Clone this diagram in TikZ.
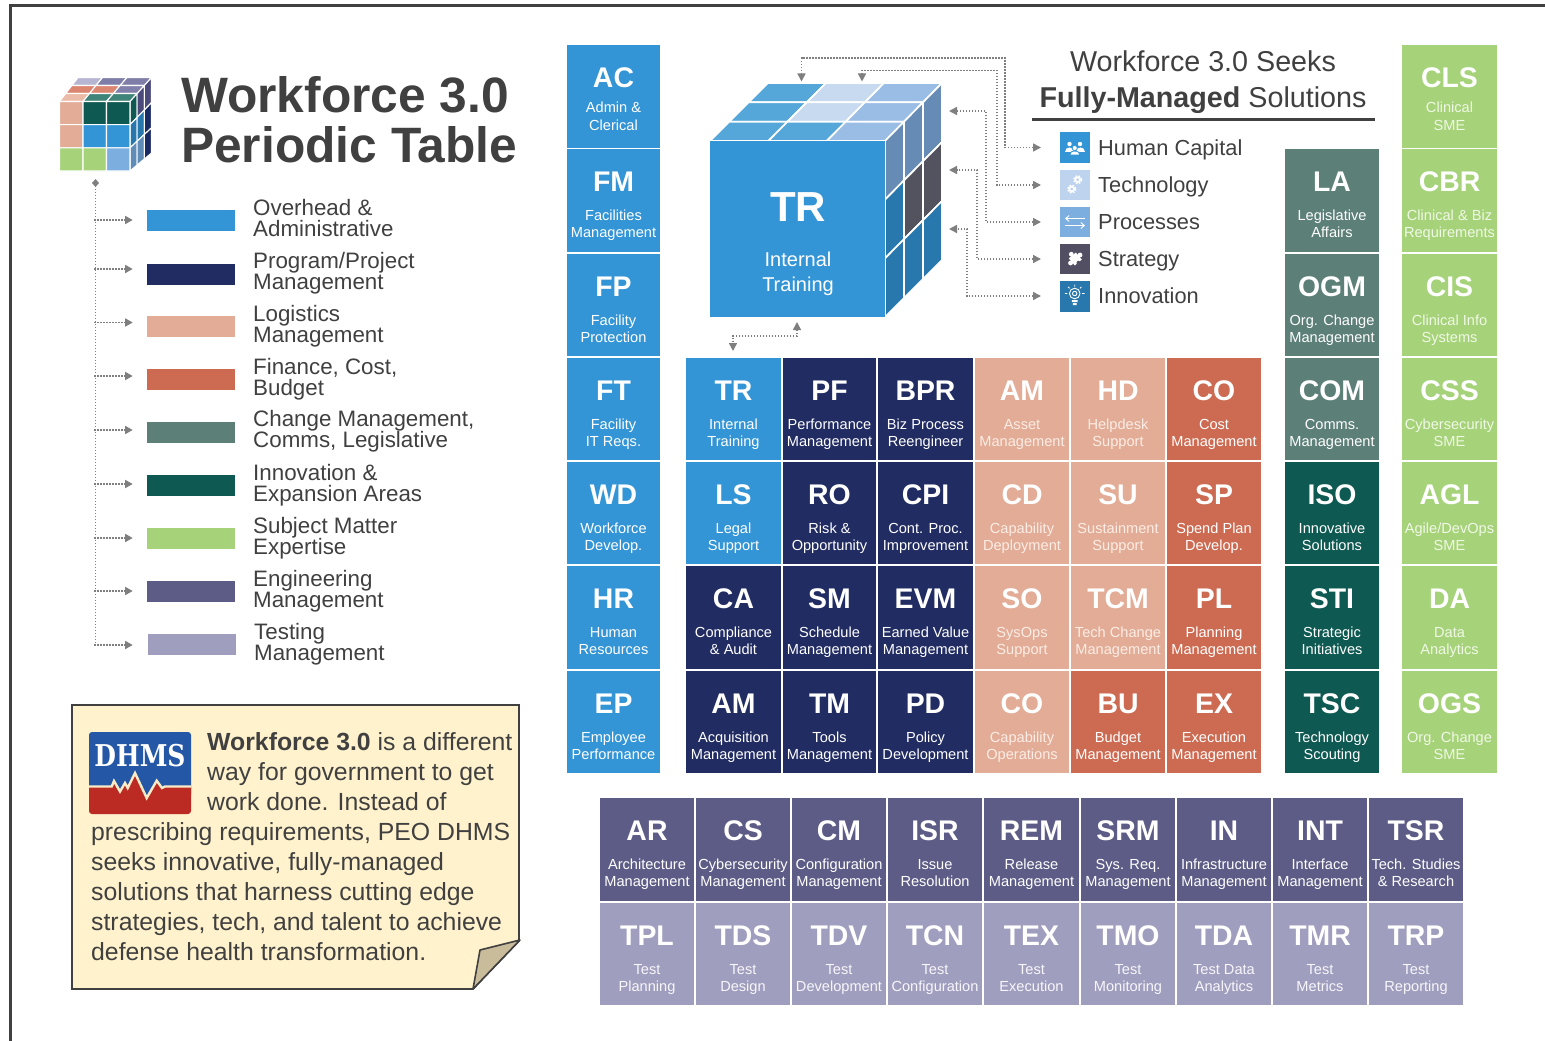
\documentclass[tikz,border=0pt]{standalone}
\usepackage{fontspec}
\setmainfont{Liberation Sans}
\newfontfamily\dhmsfont{DejaVu Serif}
\usetikzlibrary{arrows.meta}
\definecolor{ink}{HTML}{404040}
\definecolor{dotc}{HTML}{7F7F7F}
\definecolor{noteFill}{HTML}{FFF2CC}
\definecolor{foldFill}{HTML}{C9BC9B}
\definecolor{logoBlue}{HTML}{2557A7}
\definecolor{logoRed}{HTML}{BC2A24}
\definecolor{logoCream}{HTML}{F8EBC6}
\definecolor{cblue}{HTML}{3395D6}\definecolor{cblueS}{HTML}{FFFFFF}
\definecolor{cnavy}{HTML}{212C63}\definecolor{cnavyS}{HTML}{FFFFFF}
\definecolor{csalm}{HTML}{E2AC96}\definecolor{csalmS}{HTML}{FBEDE6}
\definecolor{cred}{HTML}{CC6B52}\definecolor{credS}{HTML}{FFFFFF}
\definecolor{cteal}{HTML}{5C7F78}\definecolor{ctealS}{HTML}{FFFFFF}
\definecolor{cdgrn}{HTML}{0E5A52}\definecolor{cdgrnS}{HTML}{FFFFFF}
\definecolor{cgrn}{HTML}{A6D379}\definecolor{cgrnS}{HTML}{F0F8E6}
\definecolor{cpur}{HTML}{5D5C87}\definecolor{cpurS}{HTML}{FFFFFF}
\definecolor{clav}{HTML}{A09EBE}\definecolor{clavS}{HTML}{F6F6FA}
\newcommand\fsz[1]{\fontsize{#1}{#1}\selectfont}
\newcommand\setrow[2]{\def\rowA{#1}\def\rowB{#2}}
\def\subA{71}\def\subB{88}
\newcommand\tile[7]{%
  \pgfmathsetmacro\xc{(#2+#3)/2}\pgfmathsetmacro\yc{(\rowA+\rowB)/2}%
  \pgfmathsetmacro\tw{#3-#2}\pgfmathsetmacro\th{\rowB-\rowA}%
  \pgfmathsetmacro\ya{\rowA+42.3}\pgfmathsetmacro\yb{\rowA+\subA}\pgfmathsetmacro\yd{\rowA+\subB}%
  \node[tilebox,fill=#4,minimum width=\tw pt,minimum height=\th pt] (#1) at (\xc,\yc) {};
  \node[abbrtxt] (#1-a) at (\xc,\ya) {#5};
  \node[subtxt,text=#4S] (#1-b) at (\xc,\yb) {#6};
  \node[subtxt,text=#4S] (#1-c) at (\xc,\yd) {#7};
}
\newcommand\setface[8]{\def\fax{#1}\def\fay{#2}\def\fbx{#3}\def\fby{#4}\def\fcx{#5}\def\fcy{#6}\def\fdx{#7}\def\fdy{#8}}
\newcommand\bil[3]{%
  \pgfmathsetmacro\xx{(1-(#1))*(1-(#2))*\fax+(#1)*(1-(#2))*\fbx+(#1)*(#2)*\fcx+(1-(#1))*(#2)*\fdx}%
  \pgfmathsetmacro\yy{(1-(#1))*(1-(#2))*\fay+(#1)*(1-(#2))*\fby+(#1)*(#2)*\fcy+(1-(#1))*(#2)*\fdy}%
  \coordinate (#3) at (\xx,\yy);}
\def\lwf{1.2}
\newcommand\fc[3]{\bil{#1/3}{#2/3}{pa}\bil{(#1+1)/3}{#2/3}{pb}\bil{(#1+1)/3}{(#2+1)/3}{pc}\bil{#1/3}{(#2+1)/3}{pd}%
  \definecolor{tmpc}{HTML}{#3}%
  \draw[fill=tmpc,draw=white,line width=\lwf pt,line join=round] (pa)--(pb)--(pc)--(pd)--cycle;}
\newcommand\face[9]{\fc{0}{0}{#1}\fc{1}{0}{#2}\fc{2}{0}{#3}\fc{0}{1}{#4}\fc{1}{1}{#5}\fc{2}{1}{#6}\fc{0}{2}{#7}\fc{1}{2}{#8}\fc{2}{2}{#9}}
\newcommand\leg[8]{%
  \pgfmathsetmacro\bc{#2+10.5}\pgfmathsetmacro\bx{#7+44}\pgfmathsetmacro\tx{#7+106}\pgfmathsetmacro\bl{#6-0.1}\pgfmathsetmacro\bs{#6+20.3}%
  \node[legbar,fill=#3] (#1-bar) at (\bx,\bc) {};
  \node[legtxt] (#1-l1) at (\tx,\bl) {#4};
  \node[legtxt] (#1-l2) at (\tx,\bs) {#5};
  \coordinate (#1-s) at (94,#8);
  \coordinate (#1-e) at (132.7,#8);
  \draw[dotline,-{Triangle[length=7.5pt,width=8pt]}] (#1-s) -- (#1-e);
}
\tikzset{
  tilebox/.style={rectangle,inner sep=0pt,draw=none},
  abbrtxt/.style={anchor=base,text=white,inner sep=0pt,font=\fsz{28.4}\bfseries},
  subtxt/.style={anchor=base,inner sep=0pt,font=\fsz{14.6}},
  legbar/.style={rectangle,inner sep=0pt,minimum width=88pt,minimum height=21pt,draw=none},
  legtxt/.style={anchor=base west,inner sep=0pt,text=ink,font=\fsz{22.35}},
  dotline/.style={draw=dotc,line width=1.5pt,dash pattern=on 1.6pt off 1.4pt},
  dtip/.style={{Triangle[length=8pt,width=8pt]}-{Triangle[length=8pt,width=8pt]}},
  icon/.style={rectangle,inner sep=0pt,minimum width=30pt,draw=none},
  itxt/.style={anchor=base west,inner sep=0pt,text=ink,font=\fsz{21.8}},
  body/.style={anchor=base west,inner sep=0pt,text=ink,font=\fsz{24.8}},
  titletxt/.style={anchor=base west,inner sep=0pt,text=ink,font=\fsz{49.7}\bfseries},
  headtxt/.style={anchor=base,inner sep=0pt,text=ink,font=\fsz{28.7}},
}
\begin{document}
\begin{tikzpicture}[x=1pt,y=-1pt]
\useasboundingbox (0,0) rectangle (1545,1041);
\fill[white] (0,0) rectangle (1545,1041);
\draw[ink,line width=2.8pt] (10.5,1041) -- (10.5,5.5) -- (1545,5.5);
% small cube
\def\lwf{1.1}
\setface{78}{77.5}{151.5}{77.5}{130}{101.5}{59.5}{101.5}
\face{B7B6D2}{7F7EA8}{7F7EA8}{DB8670}{DB8670}{8180AB}{EBBBA8}{3F8478}{3F8478}
\setface{130}{101.5}{151.5}{77.5}{151.5}{153}{130}{171}
\face{0E5A52}{4B4A7A}{4B4A7A}{2878AD}{2878AD}{1A2A62}{5F8DB8}{5F8DB8}{1A2A62}
\setface{59.5}{101.5}{130}{101.5}{130}{171}{59.5}{171}
\face{E2AC96}{0E5A52}{0E5A52}{E2AC96}{3395D6}{3395D6}{A6D379}{A6D379}{7DAEE0}
% title
\node[titletxt] (title1) at (181,112.3) {Workforce 3.0};
\node[titletxt] (title2) at (181,162.8) {Periodic Table};
% legend
\coordinate (spineTop) at (95.5,179);
\coordinate (spineEnd) at (95.5,645);
\draw[dotline,{Diamond[length=8pt,width=7pt]}-] (spineTop) -- (spineEnd);
\leg{lg1}{210}{cblue}{Overhead \&}{Administrative}{216}{147}{220}
\leg{lg2}{264}{cnavy}{Program/Project}{Management}{269}{147}{269}
\leg{lg3}{316}{csalm}{Logistics}{Management}{322}{147}{322.5}
\leg{lg4}{369}{cred}{Finance, Cost,}{Budget}{375}{147}{376}
\leg{lg5}{422}{cteal}{Change Management,}{Comms, Legislative}{427}{147}{430}
\leg{lg6}{475}{cdgrn}{Innovation \&}{Expansion Areas}{481}{147}{484}
\leg{lg7}{528}{cgrn}{Subject Matter}{Expertise}{534}{147}{538}
\leg{lg8}{581}{cpur}{Engineering}{Management}{587}{147}{591}
\leg{lg9}{634}{clav}{Testing}{Management}{640}{148}{645}
% note
\draw[ink,line width=1.6pt,fill=noteFill] (72,705) -- (519,705) -- (519,941) -- (473,989) -- (72,989) -- cycle;
\draw[ink,line width=1.6pt,fill=foldFill,line join=round] (473,989) -- (480,950) -- (520,940) -- cycle;
\fill[logoBlue] (89,735) arc[start angle=180,end angle=270,radius=3] -- (188,732) arc[start angle=270,end angle=360,radius=3] -- (191,795) -- (89,795) -- cycle;
\fill[logoRed] (89,786.5) -- (111.7,786.5) -- (114,781) -- (120,791.5) -- (125,783) -- (127.7,788) -- (135,773) -- (146.7,798) -- (156.7,780.7) -- (162,788) -- (165,786.5) -- (191,786.5) -- (191,811) arc[start angle=0,end angle=90,radius=3] -- (92,814) arc[start angle=90,end angle=180,radius=3] -- cycle;
\draw[logoCream,line width=2.4pt,line join=miter] (89,786.5) -- (111.7,786.5) -- (114,781) -- (120,791.5) -- (125,783) -- (127.7,788) -- (135,773) -- (146.7,798) -- (156.7,780.7) -- (162,788) -- (165,786.5) -- (191,786.5);
\node[inner sep=0pt,anchor=base,text=white] (dhms) at (140,766.5) {\scalebox{1}[1.2]{\dhmsfont\bfseries\fsz{25}DHMS}};
\node[body] (nt1) at (207,750.5) {\textbf{Workforce 3.0} is a different};
\node[body] (nt2) at (207,780.5) {way for government to get};
\node[body] (nt3) at (207,810.5) {work done. Instead of};
\node[body] (nt4) at (91,840.5) {prescribing requirements, PEO DHMS};
\node[body] (nt5) at (91,870.5) {seeks innovative, fully-managed};
\node[body] (nt6) at (91,900.5) {solutions that harness cutting edge};
\node[body] (nt7) at (91,930) {strategies, tech, and talent to achieve};
\node[body] (nt8) at (91,960) {defense health transformation.};
% left column
\def\subA{67}\def\subB{85}
\setrow{45}{148}\tile{AC}{567}{660}{cblue}{AC}{Admin \&}{Clerical}
\def\subA{71}\def\subB{88}
\setrow{149}{252}\tile{FM}{567}{660}{cblue}{FM}{Facilities}{Management}
\setrow{254}{356}\tile{FP}{567}{660}{cblue}{FP}{Facility}{Protection}
\setrow{358}{460}\tile{FT}{567}{660}{cblue}{FT}{Facility}{IT Reqs.}
\setrow{462}{564}\tile{WD}{567}{660}{cblue}{WD}{Workforce}{Develop.}
\setrow{566}{669}\tile{HR}{567}{660}{cblue}{HR}{Human}{Resources}
\setrow{671}{773}\tile{EP}{567}{660}{cblue}{EP}{Employee}{Performance}
% main grid
\setrow{358}{460}
\tile{TRa}{686}{781}{cblue}{TR}{Internal}{Training}
\tile{PF}{783}{876}{cnavy}{PF}{Performance}{Management}
\tile{BPR}{878}{973}{cnavy}{BPR}{Biz Process}{Reengineer}
\tile{AMa}{975}{1069}{csalm}{AM}{Asset}{Management}
\tile{HD}{1071}{1165}{csalm}{HD}{Helpdesk}{Support}
\tile{COa}{1167}{1261}{cred}{CO}{Cost}{Management}
\setrow{462}{564}
\tile{LS}{686}{781}{cblue}{LS}{Legal}{Support}
\tile{RO}{783}{876}{cnavy}{RO}{Risk \&}{Opportunity}
\tile{CPI}{878}{973}{cnavy}{CPI}{Cont. Proc.}{Improvement}
\tile{CD}{975}{1069}{csalm}{CD}{Capability}{Deployment}
\tile{SU}{1071}{1165}{csalm}{SU}{Sustainment}{Support}
\tile{SP}{1167}{1261}{cred}{SP}{Spend Plan}{Develop.}
\setrow{566}{669}
\tile{CA}{686}{781}{cnavy}{CA}{Compliance}{\& Audit}
\tile{SM}{783}{876}{cnavy}{SM}{Schedule}{Management}
\tile{EVM}{878}{973}{cnavy}{EVM}{Earned Value}{Management}
\tile{SO}{975}{1069}{csalm}{SO}{SysOps}{Support}
\tile{TCM}{1071}{1165}{csalm}{TCM}{Tech Change}{Management}
\tile{PL}{1167}{1261}{cred}{PL}{Planning}{Management}
\setrow{671}{773}
\tile{AMb}{686}{781}{cnavy}{AM}{Acquisition}{Management}
\tile{TM}{783}{876}{cnavy}{TM}{Tools}{Management}
\tile{PD}{878}{973}{cnavy}{PD}{Policy}{Development}
\tile{COb}{975}{1069}{csalm}{CO}{Capability}{Operations}
\tile{BU}{1071}{1165}{cred}{BU}{Budget}{Management}
\tile{EX}{1167}{1261}{cred}{EX}{Execution}{Management}
% teal column
\setrow{149}{252}\tile{LA}{1285}{1379}{cteal}{LA}{Legislative}{Affairs}
\setrow{254}{356}\tile{OGM}{1285}{1379}{cteal}{OGM}{Org. Change}{Management}
\setrow{358}{460}\tile{COM}{1285}{1379}{cteal}{COM}{Comms.}{Management}
\setrow{462}{564}\tile{ISO}{1285}{1379}{cdgrn}{ISO}{Innovative}{Solutions}
\setrow{566}{669}\tile{STI}{1285}{1379}{cdgrn}{STI}{Strategic}{Initiatives}
\setrow{671}{773}\tile{TSC}{1285}{1379}{cdgrn}{TSC}{Technology}{Scouting}
% green column
\def\subA{67}\def\subB{85}
\setrow{45}{148}\tile{CLS}{1402}{1497}{cgrn}{CLS}{Clinical}{SME}
\def\subA{71}\def\subB{88}
\setrow{149}{252}\tile{CBR}{1402}{1497}{cgrn}{CBR}{Clinical \& Biz}{Requirements}
\setrow{254}{356}\tile{CIS}{1402}{1497}{cgrn}{CIS}{Clinical Info}{Systems}
\setrow{358}{460}\tile{CSS}{1402}{1497}{cgrn}{CSS}{Cybersecurity}{SME}
\setrow{462}{564}\tile{AGL}{1402}{1497}{cgrn}{AGL}{Agile/DevOps}{SME}
\setrow{566}{669}\tile{DA}{1402}{1497}{cgrn}{DA}{Data}{Analytics}
\setrow{671}{773}\tile{OGS}{1402}{1497}{cgrn}{OGS}{Org. Change}{SME}
% bottom rows
\setrow{798}{901}
\tile{AR}{600}{694}{cpur}{AR}{Architecture}{Management}
\tile{CS}{696}{790}{cpur}{CS}{Cybersecurity}{Management}
\tile{CM}{792}{886}{cpur}{CM}{Configuration}{Management}
\tile{ISR}{888}{982}{cpur}{ISR}{Issue}{Resolution}
\tile{REM}{984}{1079}{cpur}{REM}{Release}{Management}
\tile{SRM}{1081}{1175}{cpur}{SRM}{Sys. Req.}{Management}
\tile{IN}{1177}{1271}{cpur}{IN}{Infrastructure}{Management}
\tile{INT}{1273}{1367}{cpur}{INT}{Interface}{Management}
\tile{TSR}{1369}{1463}{cpur}{TSR}{Tech. Studies}{\& Research}
\setrow{903}{1005}
\tile{TPL}{600}{694}{clav}{TPL}{Test}{Planning}
\tile{TDS}{696}{790}{clav}{TDS}{Test}{Design}
\tile{TDV}{792}{886}{clav}{TDV}{Test}{Development}
\tile{TCN}{888}{982}{clav}{TCN}{Test}{Configuration}
\tile{TEX}{984}{1079}{clav}{TEX}{Test}{Execution}
\tile{TMO}{1081}{1175}{clav}{TMO}{Test}{Monitoring}
\tile{TDA}{1177}{1271}{clav}{TDA}{Test Data}{Analytics}
\tile{TMR}{1273}{1367}{clav}{TMR}{Test}{Metrics}
\tile{TRP}{1369}{1463}{clav}{TRP}{Test}{Reporting}
% big cube
\def\lwf{1.7}
\setface{768}{83}{942}{83}{885}{141}{710}{141}
\face{55A7D9}{C8DAF0}{9ABDE6}{55A7D9}{C8DAF0}{9ABDE6}{55A7D9}{55A7D9}{9ABDE6}
\setface{885}{141}{942}{83}{942}{260}{885}{317}
\face{668CB5}{668CB5}{668CB5}{2878AD}{53525F}{53525F}{2878AD}{2878AD}{2878AD}
\node[rectangle,inner sep=0pt,fill=cblue,minimum width=175pt,minimum height=176pt] (cube) at (797.5,229) {};
\node[anchor=base,inner sep=0pt,text=white,font=\fsz{42}\bfseries] (cubeA) at (798,221) {TR};
\node[anchor=base,inner sep=0pt,text=white,font=\fsz{20}] (cubeB) at (798,266) {Internal};
\node[anchor=base,inner sep=0pt,text=white,font=\fsz{20}] (cubeC) at (798,291) {Training};
% header
\node[headtxt] (h1) at (1203,71) {Workforce 3.0 Seeks};
\node[headtxt] (h2) at (1203,107) {\textbf{Fully-Managed} Solutions};
\draw[ink,line width=2.6pt] (1032,119.5) -- (1375,119.5);
% icons
\definecolor{i1}{HTML}{3395D6}\definecolor{i2}{HTML}{BDD3EE}\definecolor{i3}{HTML}{7DAEE0}\definecolor{i4}{HTML}{524F62}\definecolor{i5}{HTML}{2878AD}
\node[icon,fill=i1,minimum height=31pt] (ic1) at (1075,147.5) {};
\node[icon,fill=i2,minimum height=30pt] (ic2) at (1075,185) {};
\node[icon,fill=i3,minimum height=30pt] (ic3) at (1075,222) {};
\node[icon,fill=i4,minimum height=30pt] (ic4) at (1075,259) {};
\node[icon,fill=i5,minimum height=31pt] (ic5) at (1075,296.5) {};
\node[itxt] (it1) at (1098,155) {Human Capital};
\node[itxt] (it2) at (1098,192.5) {Technology};
\node[itxt] (it3) at (1098,229.5) {Processes};
\node[itxt] (it4) at (1098,266.5) {Strategy};
\node[itxt] (it5) at (1098,303.5) {Innovation};
% icon glyphs: people
\fill[white] (1069.5,144) circle (2.2) (1080,144) circle (2.2);
\fill[white] (1065,151.5) .. controls (1065,146) and (1074,146) .. (1074,151.5) -- cycle;
\fill[white] (1075.5,151.5) .. controls (1075.5,146) and (1084.5,146) .. (1084.5,151.5) -- cycle;
\draw[i1,line width=0.8pt,fill=white] (1069.5,155) .. controls (1069.5,149.5) and (1079.9,149.5) .. (1079.9,155) -- cycle;
\draw[i1,line width=0.8pt,fill=white] (1074.7,148) circle (2.6);
% gears
\draw[white,line width=1.7pt] (1077.7,179.7) circle (2.4);
\draw[white,line width=1.5pt,dash pattern=on 1.7pt off 1.5pt] (1077.7,179.7) circle (4);
\draw[white,line width=1.7pt] (1071.7,189) circle (2.4);
\draw[white,line width=1.5pt,dash pattern=on 1.7pt off 1.5pt] (1071.7,189) circle (4);
% arrows
\draw[white,line width=0.9pt,-{Straight Barb[length=3.5pt,width=6pt]}] (1085,218.5) -- (1065,218.5);
\draw[white,line width=0.9pt,-{Straight Barb[length=3.5pt,width=6pt]}] (1065,225.5) -- (1085,225.5);
% puzzle
\begin{scope}[shift={(1075.3,259)},rotate=40]
\fill[white] (-4.6,-4.6) rectangle (4.6,4.6);
\fill[white] (0,-6.2) circle (2.4) (6.2,0) circle (2.4) (-6.2,0) circle (2.4);
\fill[i4] (0,5) circle (2);
\end{scope}
% bulb
\draw[white,line width=0.9pt] (1074.7,293.5) circle (5.3);
\draw[white,line width=0.9pt] (1074.7,293.5) circle (2.2);
\fill[white] (1071.8,300) rectangle (1077.6,302.2) (1072.8,303) rectangle (1076.6,305);
\draw[white,line width=0.8pt] (1074.7,286.5) -- (1074.7,284.5) (1082,293.5) -- (1084.5,293.5) (1067.4,293.5) -- (1064.9,293.5) (1069.5,288.3) -- (1068,286.8) (1079.9,288.3) -- (1081.4,286.8);
% connectors
\coordinate (a1) at (1041,147.5);\coordinate (b1) at (1005,58);\coordinate (c1) at (801.5,81.5);
\coordinate (a2) at (1041,185);\coordinate (b2) at (997,70.5);\coordinate (c2) at (862,81.5);
\coordinate (a3) at (1041,222);\coordinate (b3) at (986,111);\coordinate (c3) at (949,111);
\coordinate (a4) at (1041,259);\coordinate (b4) at (977,170);\coordinate (c4) at (949,170);
\coordinate (a5) at (1041,296);\coordinate (b5) at (967,229);\coordinate (c5) at (949,229);
\coordinate (a6) at (797,322);\coordinate (b6) at (733,336);\coordinate (c6) at (733,351);
\draw[dotline,dtip] (a1) -| (b1) -| (c1);
\draw[dotline,dtip] (a2) -| (b2) -| (c2);
\draw[dotline,dtip] (a3) -| (b3) -- (c3);
\draw[dotline,dtip] (a4) -| (b4) -- (c4);
\draw[dotline,dtip] (a5) -| (b5) -- (c5);
\draw[dotline,dtip] (a6) |- (b6) -- (c6);
\end{tikzpicture}
\end{document}
